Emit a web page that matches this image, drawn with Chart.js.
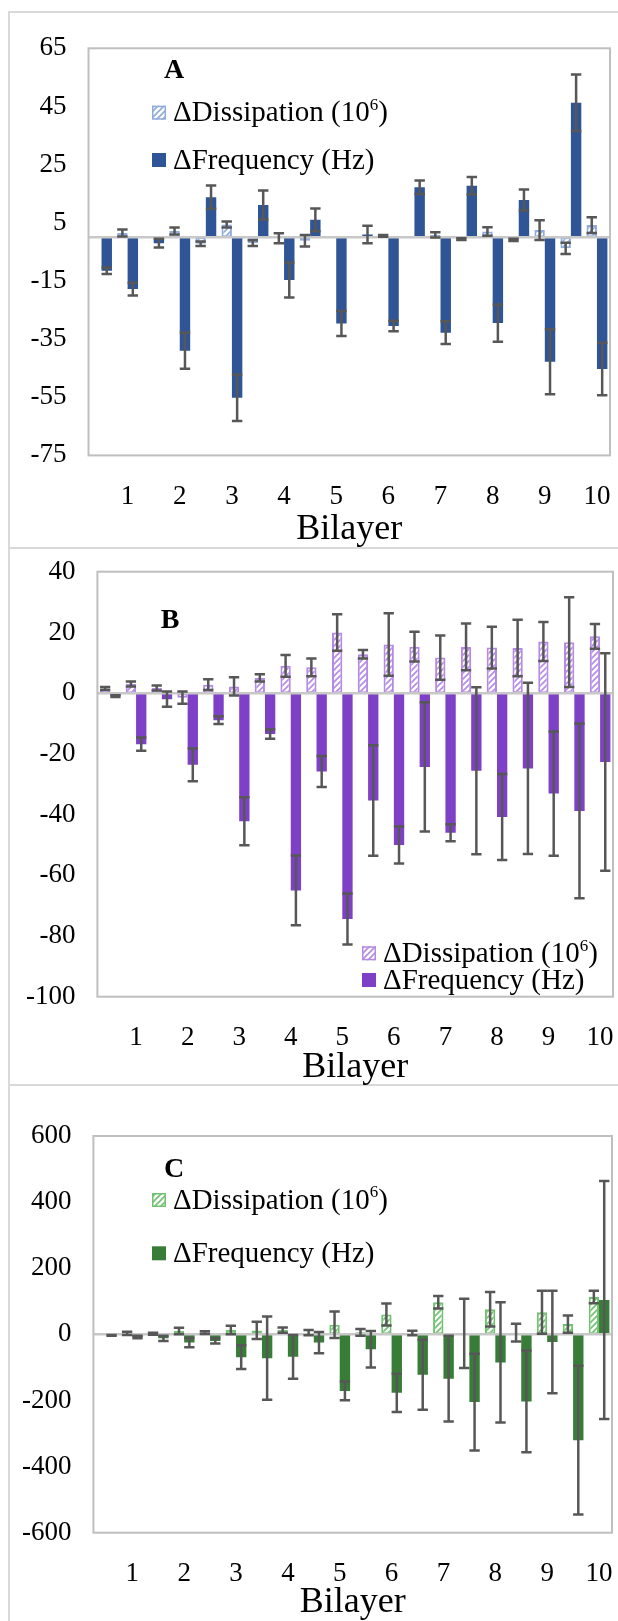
<!DOCTYPE html>
<html>
<head>
<meta charset="utf-8">
<script src="https://cdn.jsdelivr.net/npm/chart.js@4.4.1/dist/chart.umd.min.js"></script>
<style>
  html, body { margin: 0; padding: 0; background: #fff; }
  body { width: 618px; height: 1621px; position: relative; overflow: hidden; }
  .rule { position: absolute; background: #d9d9d9; }
  canvas { position: absolute; left: 0; }
</style>
</head>
<body>
<div class="rule" style="left:8px; top:11px; width:610px; height:2px"></div>
<div class="rule" style="left:8px; top:11px; width:2px; height:1610px"></div>
<div class="rule" style="left:8px; top:547px; width:610px; height:2px"></div>
<div class="rule" style="left:8px; top:1084px; width:610px; height:2px"></div>

<canvas id="chartA" width="618" height="548" style="top:0"></canvas>
<canvas id="chartB" width="618" height="537" style="top:548px"></canvas>
<canvas id="chartC" width="618" height="536" style="top:1085px"></canvas>

<script>
// two slots per bilayer, only the second one carries the number
const bilayers = ["", "1", "", "2", "", "3", "", "4", "", "5", "", "6", "", "7", "", "8", "", "9", "", "10"];

// panel A
const dissA    = [0.2, 1.5, 0.3, 2.2, -2.2, 4.4, -2.0, -0.3, -1.2, 0.2, 0.3, 0.5, -0.3, 0.8, -0.6, 2.0, -0.9, 2.5, -3.8, 4.2];
const dissErrA = [0, 1.2, 0, 1.2, 0.8, 1.0, 1.0, 1.7, 2.0, 0, 0, 0.3, 0, 0.9, 0.3, 1.5, 0.4, 3.4, 1.9, 2.7];
const freqA    = [-11.5, -17.8, -2.0, -39.0, 13.8, -55.2, 11.1, -14.7, 6.0, -29.6, 1.0, -30.5, 17.2, -32.8, 17.7, -29.5, 12.8, -42.8, 46.3, -45.3];
const freqErrA = [1.1, 2.2, 1.5, 6.2, 4.0, 8.0, 5.0, 6.0, 3.9, 4.3, 3.0, 1.8, 2.3, 3.9, 3.0, 6.4, 3.6, 11.2, 9.7, 9.0];

// panel B
const dissB    = [1.5, 3.0, 1.7, -1.5, 2.8, 2.2, 5.0, 9.0, 8.5, 20.0, 12.8, 16.0, 15.3, 11.7, 15.2, 15.0, 14.9, 17.0, 16.8, 18.7];
const dissErrB = [0.5, 0.8, 0.8, 2.0, 1.8, 3.0, 1.2, 3.6, 2.9, 6.0, 1.4, 10.3, 4.9, 7.3, 7.7, 6.9, 9.3, 6.4, 14.8, 4.1];
const freqB    = [-1.0, -16.8, -2.0, -23.6, -8.9, -42.2, -13.5, -65.0, -25.8, -74.4, -35.4, -50.0, -24.3, -46.0, -25.6, -40.8, -24.8, -33.1, -38.8, -22.7];
const freqErrB = [0.3, 2.2, 2.5, 5.4, 1.3, 7.9, 1.5, 11.5, 5.1, 8.4, 18.2, 6.1, 21.3, 2.8, 27.5, 14.2, 28.2, 20.5, 28.8, 35.8];

// panel C
const dissC    = [0, 3, 2, 10, 5, 13, 12, 13, 5, 29, 6, 60, 4, 97, 3, 76, 5, 67, 31, 113];
const dissErrC = [0, 5, 3, 10, 4, 13, 26, 8, 8, 40, 10, 33, 7, 19, 105, 52, 27, 65, 26, 19];
const freqC    = [-3, -8, -12, -25, -20, -69, -72, -68, -25, -171, -45, -177, -122, -134, -205, -85, -203, -23, -320, 104];
const freqErrC = [1, 4, 8, 14, 8, 36, 126, 66, 32, 28, 55, 58, 106, 130, 146, 182, 154, 155, 225, 360];

const dissLabel = [["ΔDissipation (10", false], ["6", true], [")", false]];
const freqLabel = [["ΔFrequency (Hz)", false]];

const serif = '"Liberation Serif", "Times New Roman", serif';

function hatch(color) {
    const c = document.createElement("canvas");
    c.width = 6; c.height = 6;
    const g = c.getContext("2d");
    g.fillStyle = "#fff";
    g.fillRect(0, 0, 6, 6);
    g.strokeStyle = color;
    g.lineWidth = 1.6;
    g.beginPath();
    g.moveTo(-1, 7); g.lineTo(7, -1);
    g.moveTo(-4, 4); g.lineTo(4, -4);
    g.moveTo(2, 10); g.lineTo(10, 2);
    g.stroke();
    return g.createPattern(c, "repeat");
}

function drawLabel(ctx, x, y, parts, size) {
    parts.forEach(([t, sup]) => {
        ctx.font = `${sup ? Math.round(size * 0.6) : size}px ${serif}`;
        ctx.fillText(t, x, sup ? y - size * 0.28 : y);
        x += ctx.measureText(t).width;
    });
}

// zero axis, error bars, frame, panel letter and legend
const panelDecor = {
    id: "panelDecor",
    afterDatasetsDraw(chart, args, opts) {
        const { ctx, chartArea: a } = chart;
        const y = chart.scales.y;
        ctx.save();

        const y0 = y.getPixelForValue(0);
        ctx.strokeStyle = "#c8c8c8";
        ctx.lineWidth = 2.5;
        ctx.beginPath();
        ctx.moveTo(a.left, y0);
        ctx.lineTo(a.right, y0);
        ctx.stroke();

        ctx.strokeStyle = "#575757";
        ctx.lineWidth = 2.5;
        chart.data.datasets.forEach((ds, i) => {
            chart.getDatasetMeta(i).data.forEach((bar, j) => {
                const e = ds.errors[j];
                if (!e) return;
                const v = ds.data[j];
                const top = y.getPixelForValue(v + e);
                const bot = y.getPixelForValue(v - e);
                const half = bar.width / 2;
                ctx.beginPath();
                ctx.moveTo(bar.x, top); ctx.lineTo(bar.x, bot);
                ctx.moveTo(bar.x - half, top); ctx.lineTo(bar.x + half, top);
                ctx.moveTo(bar.x - half, bot); ctx.lineTo(bar.x + half, bot);
                ctx.stroke();
            });
        });

        ctx.strokeStyle = "#bfbfbf";
        ctx.lineWidth = 2;
        ctx.strokeRect(a.left, a.top, a.right - a.left, a.bottom - a.top);

        ctx.fillStyle = "#000";
        ctx.textBaseline = "middle";
        ctx.textAlign = "center";
        ctx.font = `bold 28px ${serif}`;
        ctx.fillText(opts.letter, opts.letterX, opts.letterY);

        ctx.textAlign = "left";
        const ds = chart.data.datasets;
        [dissLabel, freqLabel].forEach((parts, i) => {
            const my = opts.legendY[i];
            const s = 14;
            ctx.fillStyle = ds[i].backgroundColor;
            ctx.fillRect(opts.legendX, my - s / 2, s, s);
            if (ds[i].borderWidth) {
                ctx.strokeStyle = ds[i].borderColor;
                ctx.lineWidth = 1.5;
                ctx.strokeRect(opts.legendX + 0.75, my - s / 2 + 0.75, s - 1.5, s - 1.5);
            }
            ctx.fillStyle = "#000";
            drawLabel(ctx, opts.legendX + s + 7, my + 1, parts, 29);
        });
        ctx.restore();
    }
};

function makeChart(id, cfg) {
    return new Chart(document.getElementById(id), {
        type: "bar",
        data: {
            labels: bilayers,
            datasets: [
                {
                    label: "ΔDissipation (10⁶)",
                    data: cfg.diss,
                    errors: cfg.dissErr,
                    backgroundColor: hatch(cfg.light),
                    borderColor: cfg.light,
                    borderWidth: 2,
                    borderSkipped: false
                },
                {
                    label: "ΔFrequency (Hz)",
                    data: cfg.freq,
                    errors: cfg.freqErr,
                    backgroundColor: cfg.dark,
                    borderWidth: 0
                }
            ]
        },
        options: {
            responsive: false,
            animation: false,
            events: [],
            categoryPercentage: 0.8,
            barPercentage: 1,
            layout: { padding: { top: cfg.top, right: cfg.right, left: 0, bottom: 0 } },
            plugins: {
                legend: { display: false },
                tooltip: { enabled: false },
                panelDecor: cfg.decor
            },
            scales: {
                x: {
                    grid: { display: false, drawTicks: false },
                    border: { display: false },
                    ticks: {
                        autoSkip: false, maxRotation: 0, minRotation: 0,
                        color: "#000", padding: 25,
                        font: { family: serif, size: 27 }
                    },
                    title: {
                        display: true, text: "Bilayer", color: "#000",
                        font: { family: serif, size: 36 },
                        padding: { top: 0, bottom: cfg.titlePad }
                    },
                    afterFit(s) { s.height = cfg.xHeight; s.paddingLeft = 0; s.paddingRight = 0; }
                },
                y: {
                    min: cfg.min, max: cfg.max,
                    grid: { display: false, drawTicks: false },
                    border: { display: false },
                    ticks: {
                        stepSize: cfg.step, color: "#000", padding: 22,
                        font: { family: serif, size: 27 }
                    },
                    afterFit(s) { s.width = cfg.yWidth; s.paddingTop = 0; s.paddingBottom = 0; }
                }
            }
        },
        plugins: [panelDecor]
    });
}

makeChart("chartA", {
    diss: dissA, dissErr: dissErrA, freq: freqA, freqErr: freqErrA,
    light: "#8faadc", dark: "#2f5597",
    min: -75, max: 65, step: 20,
    top: 48.3, right: 8, yWidth: 88.5, xHeight: 92.6, titlePad: -3,
    decor: { letter: "A", letterX: 174, letterY: 71, legendX: 152, legendY: [112.7, 160] }
});

makeChart("chartB", {
    diss: dissB, dissErr: dissErrB, freq: freqB, freqErr: freqErrB,
    light: "#b48ae6", dark: "#7e40c6",
    min: -100, max: 40, step: 20,
    top: 23.7, right: 5, yWidth: 97.4, xHeight: 88.3, titlePad: -4,
    decor: { letter: "B", letterX: 170, letterY: 73, legendX: 362, legendY: [405.3, 432] }
});

makeChart("chartC", {
    diss: dissC, dissErr: dissErrC, freq: freqC, freqErr: freqErrC,
    light: "#70c270", dark: "#377d37",
    min: -600, max: 600, step: 200,
    top: 51, right: 6, yWidth: 93.4, xHeight: 88.3, titlePad: -3,
    decor: { letter: "C", letterX: 174, letterY: 85, legendX: 152, legendY: [115, 168.3] }
});
</script>
</body>
</html>
